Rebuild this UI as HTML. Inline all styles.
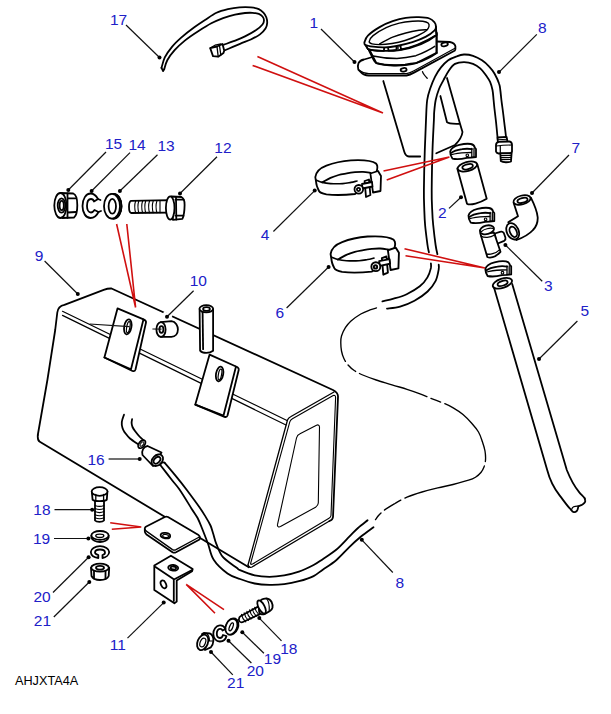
<!DOCTYPE html>
<html><head><meta charset="utf-8">
<style>
html,body{margin:0;padding:0;background:#fff;}
body{width:611px;height:714px;overflow:hidden;}
svg{display:block;}
.l{fill:none;stroke:#000;stroke-width:1.8;stroke-linecap:round;stroke-linejoin:round;}
.f{fill:#fff;stroke:#000;stroke-width:1.8;stroke-linejoin:round;}
.t{fill:none;stroke:#111;stroke-width:1.2;}
.th{stroke-width:1.1;}
.r{fill:none;stroke:#d01010;stroke-width:1.6;}
.n{font-family:"Liberation Sans",sans-serif;font-size:15.5px;fill:#2020c8;}
.d{fill:#000;}
</style></head><body>
<svg width="611" height="714" viewBox="0 0 611 714">
<!-- tank -->
<g class="l">
<!-- body outline -->
<path d="M37.8,435 L47.4,380 L55.2,330 L57.3,312.5 C57.8,308.5 60,305.8 64.4,304.9 L103.7,289.8 C106,289 109,288.4 111.5,288.5 L333,390 C336,391.5 338.2,393.5 338,397 L333,517 C332.8,519 331.5,520.3 329.5,521"/>
<path stroke-width="1.3" d="M329.5,521 L252,567 C250.5,567.8 249,567 248,565"/>
<path d="M37.8,435 C37.5,439 38,440.8 39.8,441.8 L248.8,567.2"/>
<!-- end face -->
<path stroke-width="1.3" d="M248,565 L287.5,420 C288,418.5 289,417.5 291,416.5 L334,392"/>
<path stroke-width="1.1" d="M250.6,563.5 L289.8,421.8 C290.2,420.5 291,419.6 292.4,418.8 L333.2,395.6 C334.6,395 335.6,395.8 335.6,397.5 L331,515.5 C330.9,516.8 330.2,517.6 329,518.3 L253,563.8 C251.6,564.5 250.4,564.6 250.6,563.5 Z"/>
<path stroke-width="1.1" d="M319.5,427 L318.3,503 C318.2,504.8 317.3,506 315.6,507.2 L280.5,526.6 C278.5,527.6 277,526.3 277.6,524.2 L296.5,438 C297,435.8 298,434.6 300,433.7 L316.5,425.2 C318.3,424.4 319.5,425.3 319.5,427 Z"/>
<!-- ridge lines -->
<path stroke-width="1.2" d="M62.5,311.3 L287,420.5"/>
<path stroke-width="1.2" d="M62.5,315.4 L286,425"/>
</g>
<!-- bracket A -->
<g class="l">
<path class="f" d="M117.5,308.4 L143.5,319.3 C145.5,320 146.2,321 146,322.5 L135.5,369.5 C135,371 134,371.5 132.5,371 L104.4,357.5 Z"/>
<path d="M143.5,319.3 L131,369.2 L104.4,357.5"/>
<ellipse cx="127.8" cy="326.8" rx="3.6" ry="7.6" transform="rotate(10 127.8 326.8)"/>
<ellipse cx="128.3" cy="327.2" rx="1.6" ry="5.6" transform="rotate(10 128.3 327.2)" stroke-width="1.2"/>
</g>
<!-- bracket B -->
<g class="l">
<path class="f" d="M209.6,354.6 L236,366.5 C238,367.3 239,368.5 238.7,370 L227.5,415.5 C227,417 226,417.3 224.5,416.8 L195.3,404.6 Z"/>
<path d="M236,366.5 L223.5,415.5 L195.3,404.6"/>
<ellipse cx="219.6" cy="374" rx="3.6" ry="7.4" transform="rotate(10 219.6 374)"/>
<ellipse cx="220" cy="374.4" rx="1.6" ry="5.4" transform="rotate(10 220 374.4)" stroke-width="1.2"/>
</g>
<!-- pipe on top -->
<g class="l" transform="translate(0.6,1.2)">
<path class="f" d="M199,308 L199.5,349.5 C202,352.5 209,352.5 212.5,349.5 L212.5,308 Z"/>
<ellipse class="f" cx="205.7" cy="307.6" rx="6.8" ry="3.6"/>
<ellipse cx="205.9" cy="307.8" rx="3.4" ry="1.9"/>
<path d="M202,311 L202.5,348"/>
</g>
<!-- spacer 10 -->
<g class="l" transform="translate(0.4,1.1)">
<path class="f" d="M160.4,321 L171,320 C175.5,320.5 177.5,325 177.5,328.5 C177.5,332.5 175,335.7 171,335.8 L160.4,335.7 Z"/>
<ellipse class="f" cx="160.6" cy="328.4" rx="4.6" ry="7.4"/>
<ellipse cx="161" cy="328.4" rx="2" ry="3.3"/>
</g>
<g class="t">
<path d="M89.6,324 L129.5,326.6"/>
<path d="M152.4,329 L161.5,329.2"/>
</g>
<!-- pipe 16 -->
<g class="l">
<path d="M124.0,414.7 C123.6,415.9 122.0,419.8 121.8,422.0 C121.5,424.2 122.0,426.3 122.5,428.0 C123.0,429.7 123.5,430.6 124.7,432.4 C126.0,434.1 127.7,436.5 130.0,438.5 C132.3,440.5 137.1,443.5 138.5,444.5"/>
<path d="M132.1,419.1 C132.0,419.8 131.5,421.7 131.6,423.0 C131.7,424.3 131.9,425.7 132.5,427.0 C133.1,428.3 133.8,429.4 135.0,431.0 C136.2,432.6 137.9,434.8 139.5,436.5 C141.1,438.2 143.8,440.4 144.6,441.2"/>
<ellipse class="f" cx="141.8" cy="444.2" rx="2.8" ry="4.6" transform="rotate(40 141.8 444.2)"/>
<ellipse cx="142" cy="444.1" rx="1.3" ry="2.6" transform="rotate(40 142 444.1)" stroke-width="1"/>
<path class="f" d="M147.5,446 L161.5,452.5 L153,466 L142.5,455 C141.3,451 143.5,446.5 147.5,446 Z"/>
<ellipse class="f" cx="157.3" cy="460.2" rx="4.8" ry="6.6" transform="rotate(45 157.3 460.2)"/>
<ellipse cx="157" cy="460.3" rx="2.6" ry="4" transform="rotate(45 157 460.3)"/>
<path d="M160.1,464.8 C160.8,463 162.5,462 164.5,462.6"/>
</g>
<!-- welded bracket -->
<g class="l">
<path class="f" d="M145.8,526.8 L164.8,517 C165.8,516.5 167,516.5 168,517 L198.5,535 C199.8,535.8 200,537 199.8,538.5 L199.5,539.5 L176,552.2 C174.8,552.8 173.5,552.8 172.5,552.2 L146.5,534.5 C145.3,533.6 144.8,532.5 144.8,531.3 L144.8,528.5 C144.9,527.7 145.2,527.2 145.8,526.8 Z"/>
<path stroke-width="1.3" d="M145,529.5 C145.3,530.5 146,531 147,531.6 L172.5,549.6 C173.5,550.2 174.8,550.2 176,549.6 L199.8,536.8"/>
<ellipse cx="165.4" cy="535.6" rx="4.8" ry="2.7" transform="rotate(8 165.4 535.6)"/>
<ellipse cx="165.6" cy="536" rx="3" ry="1.5" transform="rotate(8 165.6 536)" stroke-width="1.2"/>
</g>

<!-- hose -->
<g class="l">
<!-- vent hose 8 upper arch + vertical -->
<path d="M506.2,140.0 C506.1,139.2 506.1,138.0 505.8,135.0 C505.5,132.0 504.7,126.3 504.2,122.0 C503.7,117.7 503.1,112.7 502.6,109.0 C502.1,105.3 501.8,103.2 501.4,100.0 C501.0,96.8 500.7,92.7 500.3,90.0 C499.9,87.3 500.1,86.4 499.1,83.7 C498.2,81.0 496.2,76.7 494.6,73.8 C493.0,70.9 491.3,68.8 489.2,66.6 C487.1,64.3 484.7,62.1 482.0,60.3 C479.3,58.5 476.0,56.8 473.0,55.8 C470.0,54.8 466.7,54.4 464.0,54.5 C461.3,54.6 459.3,55.3 456.7,56.3 C454.1,57.2 450.8,58.4 448.2,60.2 C445.6,62.1 443.2,64.7 441.0,67.4 C438.8,70.1 436.9,73.2 435.1,76.6 C433.4,80.0 431.8,83.8 430.5,87.7 C429.2,91.6 427.9,94.6 427.2,100.0 C426.4,105.4 426.4,111.7 426.0,120.0 C425.6,128.3 425.2,138.3 424.8,150.0 C424.4,161.7 424.0,180.0 423.9,190.0 C423.8,200.0 424.1,204.2 424.3,210.0 C424.5,215.8 424.6,219.2 425.1,225.0 C425.6,230.8 426.9,240.4 427.5,245.0 C428.1,249.6 428.7,251.1 428.9,252.3"/>
<path d="M430.9,263.4 C430.9,264.2 431.4,265.7 430.9,268.0 C430.3,270.3 429.5,274.1 427.6,277.1 C425.8,280.2 423.3,283.5 419.8,286.3 C416.3,289.1 411.1,292.1 406.7,294.2 C402.3,296.3 397.7,297.5 393.6,298.7 C389.6,299.9 384.3,300.9 382.4,301.4"/>
<path d="M497.8,140.0 C497.7,139.2 497.6,138.3 497.3,135.0 C497.0,131.7 496.3,124.3 495.8,120.0 C495.3,115.7 494.9,112.3 494.5,109.0 C494.1,105.7 493.9,103.2 493.6,100.0 C493.3,96.8 493.1,93.0 492.5,90.0 C491.9,87.0 491.2,84.5 490.1,81.9 C489.0,79.4 487.2,77.0 485.6,74.7 C484.0,72.5 482.3,70.2 480.2,68.4 C478.1,66.6 475.7,65.0 473.0,63.9 C470.3,62.8 467.0,62.1 464.0,62.1 C461.0,62.1 457.5,62.5 455.0,63.9 C452.5,65.3 450.7,68.0 448.8,70.7 C446.9,73.4 445.2,76.9 443.6,79.9 C442.0,83.0 440.3,85.7 439.0,89.0 C437.7,92.3 436.5,96.2 435.7,100.0 C434.9,103.8 434.5,108.7 434.2,112.0 C433.9,115.3 434.2,113.7 433.9,120.0 C433.6,126.3 432.9,138.3 432.5,150.0 C432.1,161.7 431.8,180.0 431.7,190.0 C431.6,200.0 431.9,204.2 432.2,210.0 C432.4,215.8 432.6,219.2 433.2,225.0 C433.8,230.8 434.9,240.1 435.6,245.0 C436.3,249.9 437.1,252.7 437.4,254.2"/>
<path d="M438.7,264.7 C438.7,265.5 439.2,266.6 438.7,269.3 C438.2,272.0 437.4,277.4 435.5,281.1 C433.6,284.8 431.1,288.2 427.6,291.5 C424.1,294.8 419.1,298.2 414.5,300.7 C409.9,303.2 404.7,305.3 400.1,306.6 C395.5,307.9 389.2,308.3 387.0,308.6"/>
<!-- dashed route -->
<path d="M376.5,307.9 C375.4,308.2 372.6,308.9 370.0,309.9 C367.4,310.9 364.0,312.1 360.8,314.0 C357.6,315.9 353.6,318.7 351.0,321.0 C348.4,323.3 347.0,325.2 345.4,327.7 C343.8,330.2 342.3,333.4 341.5,336.0 C340.7,338.6 340.8,340.6 340.8,343.1 C340.8,345.6 341.0,348.4 341.5,351.0 C342.0,353.6 342.8,356.2 343.9,358.5 C345.0,360.8 346.2,362.9 348.0,365.0 C349.8,367.1 351.9,369.1 354.6,370.8 C357.3,372.6 360.4,374.0 364.0,375.5 C367.6,377.0 371.5,378.4 376.2,380.0 C380.9,381.6 386.9,383.2 392.0,384.8 C397.1,386.4 402.3,387.8 407.0,389.3 C411.7,390.8 415.9,392.2 420.0,393.8 C424.1,395.4 427.8,397.1 431.6,398.6 C435.4,400.1 439.4,401.5 443.0,403.0 C446.6,404.5 449.9,405.9 453.2,407.8 C456.5,409.7 459.9,411.9 463.0,414.5 C466.1,417.1 469.1,420.3 471.7,423.2 C474.3,426.1 476.7,428.9 478.5,432.0 C480.3,435.1 481.3,438.5 482.4,441.7 C483.5,444.9 484.5,447.9 485.0,451.0 C485.5,454.1 485.7,457.4 485.5,460.1 C485.3,462.8 484.8,464.9 484.0,467.0 C483.2,469.1 482.3,470.8 480.9,472.5 C479.5,474.2 477.6,475.9 475.5,477.2 C473.4,478.5 472.4,479.0 468.6,480.2 C464.9,481.4 458.1,483.2 453.0,484.5 C447.9,485.8 443.0,486.6 437.8,487.9 C432.6,489.1 427.1,490.5 422.0,492.0 C416.9,493.5 411.5,495.2 407.0,497.1 C402.5,499.0 398.6,501.4 395.0,503.5 C391.4,505.6 388.1,507.5 385.4,509.4 C382.7,511.3 380.6,513.3 379.0,515.0 C377.4,516.7 376.1,518.8 375.5,519.6" stroke-width="1.35" stroke-dasharray="73.1 4.5 10.0 4.5 71.0 4.5 10.3 4.5 75.2 4.5 88.4 4.5 19.3 4.5 13.9 1.0"/>
<!-- lower hose from connector -->
<path d="M160.1,464.8 C162.1,467.3 168.7,475.9 171.9,480.0 C175.1,484.1 176.2,484.8 179.5,489.5 C182.8,494.2 188.4,503.6 191.4,508.4 C194.4,513.1 195.8,514.7 197.6,518.0 C199.3,521.3 200.2,523.7 201.9,528.0 C203.6,532.3 206.0,538.4 208.0,543.7 C210.0,549.0 210.4,554.8 213.7,559.8 C216.9,564.8 223.1,570.3 227.5,573.5 C231.9,576.7 235.5,577.3 240.0,579.0 C244.5,580.7 249.8,582.5 254.7,583.5 C259.6,584.5 264.6,584.8 269.5,584.9 C274.4,585.0 279.3,584.8 284.2,584.2 C289.1,583.6 294.0,582.6 298.9,581.2 C303.8,579.9 309.6,578.1 313.6,576.1 C317.6,574.1 319.3,572.0 323.1,569.4 C326.9,566.8 331.8,563.9 336.2,560.2 C340.6,556.5 345.2,551.1 349.3,547.1 C353.4,543.1 357.0,539.8 361.0,536.5 C365.0,533.2 371.4,528.8 373.5,527.2"/>
<path d="M164.5,462.6 C166.5,464.9 172.5,472.0 176.3,476.6 C180.1,481.2 183.4,485.4 187.2,490.5 C191.0,495.6 196.2,502.6 199.3,507.0 C202.4,511.4 203.9,514.0 205.8,517.1 C207.7,520.2 209.2,522.7 210.5,525.5 C211.8,528.3 212.3,531.0 213.3,534.0 C214.3,537.0 214.7,540.0 216.3,543.8 C217.9,547.6 219.4,552.9 222.8,556.9 C226.2,560.9 233.8,565.6 236.7,567.8 C239.6,570.0 237.0,568.9 240.0,570.2 C243.0,571.5 249.8,574.3 254.7,575.4 C259.6,576.5 264.6,576.8 269.5,576.8 C274.4,576.8 279.3,576.2 284.2,575.4 C289.1,574.5 294.0,573.4 298.9,571.7 C303.8,570.0 309.6,567.1 313.6,565.0 C317.6,562.9 319.3,561.4 323.1,558.9 C326.9,556.4 331.8,553.5 336.2,549.8 C340.6,546.1 345.7,540.3 349.3,536.7 C352.9,533.1 354.9,530.7 358.0,528.0 C361.1,525.3 366.0,521.6 367.6,520.3"/>
</g>
<!-- hose 5 -->
<g class="l">
<path d="M493.4,285.4 L547.2,470 C549,477 553,487 559.6,495.4 C564,501 568,507 571.4,510.1"/>
<path d="M512.2,284 L566.8,470 C570,478 574,486 579.3,492.4 C581,494.5 583.5,496.5 584.7,498.3"/>
<path d="M571.4,510.1 C572.5,512.3 574.8,512.8 576.8,511 C578,509.5 578.2,507.5 578.3,506.2 C579.5,505.8 580.5,505.5 581.3,505.2 C583.5,504 585.8,502.5 585.2,500.5 L584.7,498.3"/>
<path d="M571.8,509 C572.5,507 575,506 578.3,506.2" stroke-width="1.2"/>
<ellipse class="f" cx="502.4" cy="283.3" rx="10" ry="4.6" transform="rotate(-18 502.4 283.3)"/>
<ellipse cx="502.6" cy="283.3" rx="5.2" ry="2.3" transform="rotate(-18 502.6 283.3)"/>
</g>

<!-- neck -->
<g class="l">
<!-- tube body -->
<path d="M383.3,81 L404.2,151.5 C405,154.5 406.5,156.3 409,156.5 L420.2,156.5"/>
<path d="M447,78 L460,123.8 L462.5,132 C462,137 459,141 455,145 L436.3,153.3"/>
<path d="M440.4,96 L447,122.2 C448.5,124 452,124 459.2,123.8"/>
<!-- flange -->
<path class="f" d="M358.5,63.2 C359.5,61 361.5,60 364,59.5 L372.6,57 L436.6,41.5 L449.8,42 C452.5,42.5 455,44.5 455.4,46.3 L455.4,49.1 C455.2,50 454.8,50.5 454.5,50.8 L414,72.6 C411,74.2 409,75 406.5,75.5 L368.8,75.5 C364.5,75.3 362.5,74 361.3,72.6 L358.3,69.5 C357.5,67.5 357.8,65 358.5,63.2 Z"/>
<path stroke-width="1.2" d="M359.5,70.5 C362,72.5 365,73.4 368.8,73.6 L406.5,73.6 C409.5,73.3 411.5,72.3 414,70.8 L455,48.2"/>
<ellipse cx="403.6" cy="69.8" rx="3" ry="1.8" transform="rotate(-8 403.6 69.8)"/>
<ellipse cx="444.6" cy="44.4" rx="3.3" ry="1.8" transform="rotate(-12 444.6 44.4)"/>
<path stroke-width="1.3" d="M422.5,71.7 C423,73.5 424,75 427.2,78.3"/>
<!-- neck -->
<path class="f" stroke="none" d="M368.5,48 L376.4,63.2 C385,66 405,66.5 415.9,63.2 L436.6,52.9 L436.6,33 Z"/>
<path d="M368.8,50 L373.5,59.5 C374.5,61.5 375.3,62.5 376.4,63.2 C385,65.5 397,65.5 405,64.6 C409,64 413,63.5 415.9,63.2 C425,60 431,57 436.6,52.9"/>
<path stroke-width="1.4" d="M371.6,55.7 C380,57.5 390,58.5 397,58.5 C405,58 410,57 415.9,55.7 C424,52.5 430,49.5 434.7,46.3"/>
<path d="M436.6,33 L436.6,52.9"/>
<!-- ring band (side) -->
<path class="f" stroke="none" d="M364.6,42.1 L367.9,49.1 C375,51 390,51.5 400,50 C415,47.5 428,42 436.5,35 L435.9,26.4 Z"/>
<path d="M365.2,44.7 L367.9,49.1 C372,50.5 378,51 383.9,50.8 L384.2,47.6 M388,47.4 L388.5,50.6 C392,50.5 395,50.2 396.5,50 L396.5,46.1 M400.5,45.5 L401,49.5 C412,47.5 425,42 436.5,35 L435.9,28"/>
<path stroke-width="1.3" d="M384.2,47.6 L388,47.4 M396.5,46.1 L400.5,45.5 M396.5,48 L398.5,48"/>
<!-- ring rim -->
<path class="f" d="M364.6,42.1 C365.1,40.6 365.4,38.1 367.9,35.6 C370.4,33.1 375.5,29.5 379.6,27.1 C383.7,24.7 388.3,22.7 392.7,21.2 C397.1,19.7 401.4,18.6 405.8,17.9 C410.2,17.2 415.0,17.1 418.9,17.2 C422.8,17.3 426.8,17.6 429.4,18.5 C432.0,19.4 433.5,21.2 434.6,22.5 C435.7,23.8 435.9,25.1 435.9,26.4 C435.9,27.7 436.3,28.6 434.6,30.3 C432.9,32.0 429.2,34.9 425.5,36.9 C421.8,38.9 417.2,40.6 412.4,42.1 C407.6,43.6 401.3,45.1 396.7,46.0 C392.1,46.9 388.8,47.3 384.9,47.4 C381.0,47.5 376.4,47.2 373.1,46.7 C369.8,46.2 366.6,45.5 365.2,44.7 C363.8,43.9 364.2,43.6 364.6,42.1 Z"/>
<path stroke-width="1.4" d="M369.2,41.5 C369.4,40.1 370.3,37.9 373.1,35.6 C375.9,33.3 381.8,29.8 386.2,27.7 C390.6,25.6 394.9,24.2 399.3,23.1 C403.7,22.0 408.5,21.5 412.4,21.2 C416.3,20.9 420.2,20.9 422.8,21.2 C425.4,21.5 427.1,22.2 428.1,23.1 C429.1,24.0 429.3,25.2 429.0,26.4 C428.7,27.6 428.3,29.0 426.5,30.5 C424.7,32.0 421.6,33.8 418.0,35.5 C414.4,37.2 409.3,39.2 405.0,40.5 C400.7,41.8 396.2,42.8 392.0,43.5 C387.8,44.2 383.3,44.6 380.0,44.6 C376.7,44.6 373.8,44.3 372.0,43.8 C370.2,43.3 369.0,42.9 369.2,41.5 Z"/>
<path stroke-width="1.4" d="M379.6,43.8 C381.8,42.7 388.3,39.0 392.7,37.2 C397.1,35.4 401.4,34.1 405.8,33.0 C410.2,31.9 415.4,30.9 418.9,30.3 C422.4,29.8 425.5,29.8 426.8,29.7"/>
</g>

<!-- tie -->
<g class="l">
<path d="M161.5,67.8 C162.1,66.1 163.1,60.9 164.8,57.4 C166.6,53.9 169.3,50.2 172.0,46.9 C174.7,43.6 177.5,41.0 181.2,37.7 C184.9,34.4 190.3,30.2 194.3,27.3 C198.3,24.4 201.3,22.4 205.0,20.0 C208.7,17.6 212.7,14.6 216.5,12.8 C220.3,11.0 224.1,10.1 227.9,9.2 C231.7,8.3 235.6,7.7 239.4,7.4 C243.2,7.1 247.6,7.1 250.8,7.4 C254.0,7.7 256.7,8.3 258.8,9.2 C260.9,10.1 262.1,11.3 263.4,12.6 C264.6,13.9 265.7,15.5 266.3,17.2 C266.9,18.9 267.3,21.0 267.2,22.9 C267.1,24.8 266.7,26.7 265.5,28.6 C264.3,30.5 262.4,32.6 260.0,34.4 C257.6,36.2 254.1,37.9 250.8,39.5 C247.5,41.1 244.4,42.0 240.0,43.8 C235.6,45.6 227.1,49.4 224.5,50.5"/>
<path d="M164.2,69.2 C164.7,67.7 165.7,63.2 167.4,60.0 C169.1,56.8 171.7,53.5 174.6,50.2 C177.5,46.9 181.2,43.6 185.1,40.4 C189.0,37.2 193.8,34.0 198.2,31.2 C202.6,28.4 207.2,25.5 211.3,23.3 C215.5,21.1 219.2,19.6 223.1,18.1 C227.0,16.7 231.3,15.4 235.0,14.6 C238.7,13.8 242.1,13.3 245.0,13.0 C247.9,12.7 250.2,12.7 252.5,12.8 C254.8,13.0 257.1,13.3 258.8,13.9 C260.5,14.5 261.6,15.4 262.5,16.5 C263.4,17.6 264.0,19.0 264.0,20.3 C264.0,21.6 263.8,22.9 262.5,24.5 C261.2,26.1 259.4,27.8 256.5,29.8 C253.6,31.8 248.8,34.5 245.0,36.4 C241.2,38.3 237.1,39.8 233.6,41.2 C230.1,42.6 225.6,44.0 224.0,44.6"/>
<path d="M161.5,67.8 L163.1,71.1 L164.2,69.2"/>
<path class="f" d="M210.2,48.1 L217,46.5 L222.5,44 L224.2,50.5 L223.5,53 L218.2,56.7 L213,56.1 Z"/>
<path d="M210.2,48.1 L215,45.2 L221,44 M217,46.5 L218.2,56.7 M219.5,45.5 L220.8,55" stroke-width="1.3"/>
</g>

<!-- clips -->

<g class="l">
<path class="f" d="M315.3,177.1 C316,172 320,168 326.4,165.6 C333,163 342,161 350.9,160.3 C362,159.7 372,160.5 376,163.5 C377.5,165 377.5,168 377,170 L375,178 L355,194 C346,195 336,195.6 326.4,194.3 C321,193.2 319.5,192 319,191 C317.5,188 316.2,185 316.1,182 Z"/>
<path d="M322.3,182.4 C323.7,181.7 327.8,179.1 330.5,177.9 C333.2,176.7 335.9,175.8 338.6,175.0 C341.3,174.2 344.1,173.9 346.8,173.4 C349.5,172.9 352.3,172.5 355.0,172.2 C357.7,171.9 360.4,171.7 363.0,171.8 C365.6,171.9 369.2,172.6 370.5,172.8"/>
<path stroke-width="1.6" d="M316.3,180.2 C317.3,180.6 319.9,181.8 322.3,182.4 C324.7,183.0 327.1,183.4 330.5,183.6 C333.9,183.8 339.3,183.8 342.7,183.6 C346.1,183.4 348.5,182.8 350.9,182.4 C353.3,182.0 356.0,181.2 357.0,181.0"/>
<path class="f" d="M370.4,173.5 L378,171 L381,176 L380.5,191 L373,192.5 Z"/>
<path class="f" d="M364.6,181 L369,179.5 L370.4,195 L366,197 Z"/>
<path class="f" d="M362,184 L372,182 L372.5,186.5 L362.5,188.5 Z"/>
<circle class="f" cx="358.8" cy="189.3" r="4.3"/>
<circle cx="358.5" cy="189.5" r="1.6"/>
</g>
<g class="l" transform="translate(330.6,254) scale(1.04) translate(-315.3,-177.1)">
<path class="f" d="M315.3,177.1 C316,172 320,168 326.4,165.6 C333,163 342,161 350.9,160.3 C362,159.7 372,160.5 376,163.5 C377.5,165 377.5,168 377,170 L375,178 L355,194 C346,195 336,195.6 326.4,194.3 C321,193.2 319.5,192 319,191 C317.5,188 316.2,185 316.1,182 Z"/>
<path d="M322.3,182.4 C323.7,181.7 327.8,179.1 330.5,177.9 C333.2,176.7 335.9,175.8 338.6,175.0 C341.3,174.2 344.1,173.9 346.8,173.4 C349.5,172.9 352.3,172.5 355.0,172.2 C357.7,171.9 360.4,171.7 363.0,171.8 C365.6,171.9 369.2,172.6 370.5,172.8"/>
<path stroke-width="1.6" d="M316.3,180.2 C317.3,180.6 319.9,181.8 322.3,182.4 C324.7,183.0 327.1,183.4 330.5,183.6 C333.9,183.8 339.3,183.8 342.7,183.6 C346.1,183.4 348.5,182.8 350.9,182.4 C353.3,182.0 356.0,181.2 357.0,181.0"/>
<path class="f" d="M370.4,173.5 L378,171 L381,176 L380.5,191 L373,192.5 Z"/>
<path class="f" d="M364.6,181 L369,179.5 L370.4,195 L366,197 Z"/>
<path class="f" d="M362,184 L372,182 L372.5,186.5 L362.5,188.5 Z"/>
<circle class="f" cx="358.8" cy="189.3" r="4.3"/>
<circle cx="358.5" cy="189.5" r="1.6"/>
</g>

<!-- small -->

<g class="l">
<path class="f" d="M450.2,151.5 C451,148 455,146 459.3,144.9 C463,144 468,143.5 470.8,144 C473,144.5 474.5,146 474.8,147.7 L476,149 L476,157 L471.3,157.5 L466.8,157.8 C462,159 455,159.2 452.4,158.6 C451,156.5 450,154 450.2,151.5 Z"/>
<path d="M451.3,152.9 C453,151.5 457,150 462.2,149.2 C465,148.7 468,148.5 471.9,149.2"/>
<path d="M451.6,154.6 C455,153.5 460,153 466.8,152.6 L471.5,152.5" stroke-width="1.3"/>
<path d="M471.8,148.5 L471.8,157.3 M474,148.5 L474,157" stroke-width="1.3"/>
<circle cx="467.3" cy="155.3" r="1.3" stroke-width="1.1"/>
</g>
<g class="l" transform="translate(18.3,64)">
<path class="f" d="M450.2,151.5 C451,148 455,146 459.3,144.9 C463,144 468,143.5 470.8,144 C473,144.5 474.5,146 474.8,147.7 L476,149 L476,157 L471.3,157.5 L466.8,157.8 C462,159 455,159.2 452.4,158.6 C451,156.5 450,154 450.2,151.5 Z"/>
<path d="M451.3,152.9 C453,151.5 457,150 462.2,149.2 C465,148.7 468,148.5 471.9,149.2"/>
<path d="M451.6,154.6 C455,153.5 460,153 466.8,152.6 L471.5,152.5" stroke-width="1.3"/>
<path d="M471.8,148.5 L471.8,157.3 M474,148.5 L474,157" stroke-width="1.3"/>
<circle cx="467.3" cy="155.3" r="1.3" stroke-width="1.1"/>
</g>
<g class="l" transform="translate(35.2,117.4)">
<path class="f" d="M450.2,151.5 C451,148 455,146 459.3,144.9 C463,144 468,143.5 470.8,144 C473,144.5 474.5,146 474.8,147.7 L476,149 L476,157 L471.3,157.5 L466.8,157.8 C462,159 455,159.2 452.4,158.6 C451,156.5 450,154 450.2,151.5 Z"/>
<path d="M451.3,152.9 C453,151.5 457,150 462.2,149.2 C465,148.7 468,148.5 471.9,149.2"/>
<path d="M451.6,154.6 C455,153.5 460,153 466.8,152.6 L471.5,152.5" stroke-width="1.3"/>
<path d="M471.8,148.5 L471.8,157.3 M474,148.5 L474,157" stroke-width="1.3"/>
<circle cx="467.3" cy="155.3" r="1.3" stroke-width="1.1"/>
</g>
<!-- hose 2 -->
<g class="l">
<path class="f" d="M457.3,168.4 L467,203.7 C470,205.7 480,203 486.7,198.8 L477.4,164.5 Z"/>
<ellipse class="f" cx="467.4" cy="166.5" rx="10" ry="4.5" transform="rotate(-15 467.4 166.5)"/>
<ellipse cx="467.6" cy="166.7" rx="5.4" ry="2.4" transform="rotate(-15 467.6 166.7)"/>
</g>
<!-- T piece -->
<g class="l">
<path class="f" d="M494.8,233.5 L500.8,231.7 C502,231.3 503,231.8 503.8,233 L505.4,237.5 C505.8,238.8 505.4,240 504.2,240.9 L496.5,244 Z"/>
<path class="f" d="M480.2,233 L487.3,256.9 C489.5,258.2 495,258 500.5,251.8 L493.9,232.5 Z"/>
<path d="M481,236 C484,238 490,238 494.6,235" stroke-width="1.3"/>
<path d="M486.4,253.8 C489.5,255 495.5,253.8 499.8,249.6" stroke-width="1.3"/>
<ellipse class="f" cx="487" cy="229.8" rx="7.2" ry="4.3" transform="rotate(-15 487 229.8)"/>
<path d="M481.5,231.5 C484,229 490,227.5 493,228.5" stroke-width="1.1"/>
</g>
<!-- elbow 7 -->
<g class="l">
<path class="f" d="M513.7,203 L518,216.3 L508.3,222.2 L516.6,240 C522,238 529.4,234 533,230 C537,226 537.8,220 537.7,217.3 C537.2,212 535.5,207 530.9,197.7 Z"/>
<ellipse class="f" cx="522" cy="200" rx="8.8" ry="4.4" transform="rotate(-15 522 200)"/>
<ellipse cx="522.5" cy="200.4" rx="5.2" ry="2.4" transform="rotate(-15 522.5 200.4)"/>
<ellipse class="f" cx="512.7" cy="231.3" rx="5.9" ry="8.6" transform="rotate(-25 512.7 231.3)"/>
<ellipse cx="513.3" cy="231.8" rx="3.3" ry="5.5" transform="rotate(-25 513.3 231.8)"/>
</g>
<!-- vent hose fitting -->
<g class="l">
<path class="f" d="M497.6,137.5 L506.6,136.8 L507.5,141.5 L497.8,142 Z"/>
<path d="M497.7,139.8 L507,139.2" stroke-width="1.1"/>
<path class="f" d="M496,145 C496,143 497,142 499,141.8 L509.5,141.5 C511,141.8 512,143 512,145 L512,151.5 C511.8,152.8 510.8,153.3 509.5,153.3 L498.5,153.5 C497,153.3 496.2,152.5 496,151.5 Z"/>
<path d="M496.3,146 C500,145.5 508,145 511.8,145 M500.3,146 L500.3,153.4" stroke-width="1.2"/>
<path class="f" d="M500.3,153.4 L500.8,161 C503,162.6 508.5,162.6 511,161.5 L511.6,153.2 Z"/>
<path d="M500.5,155.6 L511.5,155.4 M500.6,157.6 L511.4,157.4 M500.7,159.6 L511.3,159.4" stroke-width="1.1"/>
</g>

<!-- hardware -->
<!-- nut 15 -->
<g class="l">
<path class="f" d="M60.4,193 L73.3,193.5 C76,194.5 77.3,199 77.3,205.2 C77.3,211 76,216 74,217.5 L62.3,218 Z"/>
<path d="M67.5,193.5 L67.5,217.8 M67.5,198.4 L75.8,198.4 M67.5,212.5 L75.8,212"/>
<ellipse class="f" cx="60.4" cy="205.5" rx="6.1" ry="12.5"/>
<ellipse cx="61.5" cy="205.5" rx="3.8" ry="7.2"/>
<ellipse cx="61.7" cy="205.5" rx="2.1" ry="4.6"/>
</g>
<!-- washer 14 -->
<g class="l">
<path class="f" d="M98,199 C96,195.5 93.5,193.5 90.5,193.5 C86,193.5 82.5,199 82.5,206 C82.5,213 86,218 90.5,218 C94,218 96.5,216 98.5,212 L94.5,210 C93.5,211.5 92.5,212.5 91,212.5 C88.5,212.5 87,209.5 87,206 C87,202 88.5,199 91,199 C92.5,199 93.5,200 94,201.5 Z"/>
<path d="M98,199 L100.5,200 M98.5,212 L101,211"/>
</g>
<!-- washer 13 -->
<g class="l">
<ellipse class="f" cx="113.5" cy="206.2" rx="8" ry="12.4"/>
<path d="M113.5,193.8 C118,193.8 121.5,199 121.5,206.2 C121.5,213 118,218.6 113.5,218.6"/>
<ellipse class="f" cx="112" cy="206.2" rx="8" ry="12.4"/>
<ellipse cx="112.3" cy="206.3" rx="3.7" ry="7.4"/>
</g>
<!-- bolt 12 -->
<g class="l">
<path class="f" d="M131,200.8 L169.7,200.2 L169.7,212.5 L131,213 C129.5,212.5 129,209 129,206.8 C129,203 129.8,201.2 131,200.8 Z"/>
<path d="M135.6,201 C134.6,204 134.6,209 135.6,212.8 M138.8,201 C137.8,204 137.8,209 138.8,212.8 M142.6,201 C141.6,204 141.6,209 142.6,212.8 M145.7,201 C144.7,204 144.7,209 145.7,212.8 M149.5,201 C148.5,204 148.5,209 149.5,212.8 M153.2,201 C152.2,204 152.2,209 153.2,212.8 M156.9,201 C155.9,204 155.9,209 156.9,212.8 M160,200.8 L160,212.7" stroke-width="1.1"/>
<path class="f" d="M171.5,196.5 L181.4,197 C184,198.5 184.8,201 184.6,205 C184.5,212 183.8,216 182.4,218.9 L172.9,219.9 Z"/>
<path d="M175.5,199.7 L183.5,199.7 M175.5,215.7 L183.5,215.7 M176,197 L176.3,219.5"/>
<ellipse class="f" cx="170.2" cy="208" rx="4.3" ry="11.6"/>
</g>
<!-- bolt 18 left -->
<g class="l">
<path class="f" d="M95,500.5 L95,520.5 C96.5,522.2 102.5,522.2 104,520.5 L104,500.5 Z"/>
<path d="M95,505.4 C97.5,506.5 101.5,506.5 104,505.4 M95,508.5 C97.5,509.6 101.5,509.6 104,508.5 M95,511.6 C97.5,512.7 101.5,512.7 104,511.6 M95,514.7 C97.5,515.8 101.5,515.8 104,514.7 M95,517.7 C97.5,518.8 101.5,518.8 104,517.7" stroke-width="1.1"/>
<path class="f" d="M91.8,491.5 L92.6,499.8 C95,501.6 104.5,501.6 106.8,499.8 L107.4,491.5 Z"/>
<ellipse class="f" cx="99.6" cy="491.5" rx="7.9" ry="4.3"/>
<path d="M95.8,494.5 L95.8,501 M103.6,494.5 L103.6,501" stroke-width="1.3"/>
</g>
<!-- washer 19 left -->
<g class="l">
<path class="f" d="M91.4,535.4 L91.4,537.5 C92,540 96,542 100,542 C104,542 108,540 108.6,537.5 L108.6,535.4 Z"/>
<ellipse class="f" cx="100" cy="535.4" rx="8.6" ry="4.4"/>
<ellipse cx="99.8" cy="535.8" rx="4" ry="1.7" stroke-width="1.4"/>
</g>
<!-- washer 20 left -->
<g class="l">
<path class="f" d="M98.3,558 C94,557.5 91,555 90.8,552 C90.8,549 95,546.2 100,546.2 C105,546.2 109.2,549 109.2,552 C109,555 106,557.5 102.5,558 L102.5,555 C104.5,554.5 105,553 105,552.5 C105,550.5 102.5,549.5 100,549.5 C97.5,549.5 95,550.5 95,552.5 C95,553.5 96.5,554.5 98.3,555 Z"/>
</g>
<!-- nut 21 left -->
<g class="l">
<path class="f" d="M91,567.7 L91.5,576 C93,579 97,580 100,580 C104,580 107.5,579 108.7,576 L109.2,567.7 Z"/>
<path d="M94,570 L94,578.5 M105.5,570 L105.5,578.5"/>
<ellipse class="f" cx="100" cy="567.7" rx="8.8" ry="4"/>
<ellipse cx="100" cy="567.7" rx="4" ry="1.9"/>
</g>
<!-- bracket 11 -->
<g class="l">
<path class="f" d="M154.3,565.5 L170.9,555.7 L192.7,568.9 L192.1,571.2 L176.7,580.4 L176.7,601.6 L174.4,603.3 L154.3,590.1 Z"/>
<path d="M155.5,567 L173.8,579.2 L173.8,601 M174.4,579.2 L192.1,570"/>
<ellipse cx="173.2" cy="567.8" rx="5" ry="2.8" transform="rotate(5 173.2 567.8)"/>
<ellipse cx="173.4" cy="568" rx="2.8" ry="1.5" transform="rotate(5 173.4 568)"/>
<ellipse cx="163.5" cy="584.4" rx="2.5" ry="4.1" transform="rotate(-25 163.5 584.4)"/>
</g>
<!-- right group: bolt 18 -->
<g class="l">
<path class="f" d="M240.5,616.3 L258.5,606.4 L260,614.1 L242.4,622.2 C240,622.8 238.6,620.8 238.9,619 C239.1,617.6 239.6,616.8 240.5,616.3 Z"/>
<path d="M241.5,614.4 Q242.3,618.8 245.7,621.9 M244.2,612.9 Q245.0,617.4 248.4,620.4 M246.9,611.4 Q247.7,615.9 251.1,619.0 M249.6,609.9 Q250.4,614.4 253.8,617.5 M252.2,608.5 Q253.0,613.0 256.4,616.1 M254.7,607.2 Q255.5,611.6 258.9,614.7 " stroke-width="1.1"/>
<path class="f" d="M259,604 C259.5,601 261,599.5 263.5,598.8 L266.5,598.3 C268.8,598.6 270.6,600 271.6,602 C272.6,604 272.8,606 272.5,607.8 C272,609.5 271,610.5 270,611 L264.5,614.1 C262,615 260,614 259.3,612 Z"/>
<path d="M266.5,598.5 C268.5,601 269.6,604.5 269.2,610.5" stroke-width="1.2"/>
<ellipse class="f" cx="261.6" cy="607" rx="3" ry="7.2" transform="rotate(-28 261.6 607)"/>
</g>
<!-- washer 19 right -->
<g class="l" stroke-width="1.6">
<ellipse class="f" cx="232.2" cy="626.4" rx="5.8" ry="8.4" transform="rotate(22 232.2 626.4)" stroke-width="1.6"/>
<ellipse class="f" cx="231.4" cy="626.7" rx="5.6" ry="8.2" transform="rotate(22 231.4 626.7)" stroke-width="1.6"/>
<ellipse cx="231.2" cy="626.8" rx="1.6" ry="4.2" transform="rotate(22 231.2 626.8)" stroke-width="1.3"/>
</g>
<!-- washer 20 right -->
<g class="l">
<path class="f" stroke-width="1.6" d="M225.5,629 C224,626 221.5,625 219.5,625.4 C216,626 213.2,629.5 213.3,634 C213.4,638.5 216.5,641.7 220,641.5 C223,641.3 225.8,639 226.5,636 L223,635 C222.5,637 221.5,638 220,638 C218,638 216.8,636 216.8,633.8 C216.8,631 218.3,629 220,628.8 C221,628.7 222,629.3 222.6,630.5 Z"/>
</g>
<!-- nut 21 right -->
<g class="l">
<path class="f" stroke-width="1.6" d="M202,634 L203.8,633 L209.7,633.4 C212,634.5 213.6,637.5 213.4,640.8 C213.2,643.5 212.3,646 210.8,647.4 L205,650 Z"/>
<path d="M206.5,633.3 C208.5,635 209.5,638 209.5,641 M209.5,641 L213.3,641" stroke-width="1.2"/>
<ellipse class="f" cx="202.7" cy="642.4" rx="5.2" ry="8" transform="rotate(22 202.7 642.4)" stroke-width="1.6"/>
<ellipse cx="202.8" cy="642.5" rx="2.6" ry="4.6" transform="rotate(22 202.8 642.5)" stroke-width="1.2"/>
</g>

<!-- leaders -->
<!-- LEADERS -->
<path d="M163.5,312.6 L172,316.5" stroke="#fff" stroke-width="3.2" fill="none"/>
<g class="t">
<path d="M126,25 L159.5,57.5"/>
<path d="M321,29 L354.5,62"/>
<path d="M536.8,34.3 L499.3,71.8"/>
<path d="M569,155 L532,193"/>
<path d="M449,208.4 L461,197.3"/>
<path d="M505.4,245 L542.2,281.2"/>
<path d="M273.4,231.5 L314.7,190.6"/>
<path d="M286.6,308 L328.6,267"/>
<path d="M577.4,321 L539,359"/>
<path d="M44.6,261 L77.8,294"/>
<path d="M193.6,290.7 L167,316.8"/>
<path d="M106,152 L68.3,190"/>
<path d="M130,152.7 L91.6,191"/>
<path d="M157.5,154.8 L119.9,191"/>
<path d="M217,156.8 L180,193.5"/>
<path d="M108.6,459 L139.7,459"/>
<path d="M54.5,509.7 L92.2,509.7"/>
<path d="M54,538.5 L88.4,538.5"/>
<path d="M53,592.5 L88.6,557.3"/>
<path d="M53.8,617 L89.3,582"/>
<path d="M127.5,638.1 L163.7,602.6"/>
<path d="M361.8,539.8 L392.8,572.5"/>
<path d="M259.3,618.1 L281.5,640.8"/>
<path d="M242.3,632.3 L263.9,653.2"/>
<path d="M228.5,640.8 L251.4,663"/>
<path d="M211,652 L232.8,674.8"/>
</g>
<g class="d">
<circle cx="159.5" cy="57.5" r="2"/><circle cx="354.5" cy="62" r="2"/><circle cx="499" cy="72" r="2"/>
<circle cx="532" cy="193" r="2"/><circle cx="461" cy="197.3" r="2"/><circle cx="505.4" cy="245" r="2"/>
<circle cx="314.7" cy="190.6" r="2"/><circle cx="328.6" cy="267" r="2"/><circle cx="539" cy="359" r="2"/>
<circle cx="77.8" cy="294" r="2"/><circle cx="167" cy="316.8" r="2"/><circle cx="68.3" cy="190" r="2"/>
<circle cx="91.6" cy="191" r="2"/><circle cx="119.9" cy="191" r="2"/><circle cx="180" cy="193.5" r="2"/>
<circle cx="139.7" cy="459" r="2"/><circle cx="92.2" cy="509.7" r="2"/><circle cx="88.4" cy="538.5" r="2"/>
<circle cx="88.6" cy="557.3" r="2"/><circle cx="89.3" cy="582" r="2"/><circle cx="163.7" cy="602.6" r="2"/>
<circle cx="361.8" cy="539.8" r="2"/><circle cx="259.3" cy="618.1" r="2"/><circle cx="242.3" cy="632.3" r="2"/>
<circle cx="228.5" cy="640.8" r="2"/><circle cx="211" cy="652" r="2"/>
</g>

<!-- red -->
<!-- RED LINES -->
<g class="r">
<path d="M257.4,56.4 L383,113 M252.6,65.4 L383,113"/>
<path d="M449.4,157 L383.5,171 M449.4,157 L386.7,180"/>
<path d="M485,268 L404.5,248.7 M485,268 L405.5,255.7"/>
<path d="M116.6,224 L135.6,307.5 M126.8,224 L135.6,307.5"/>
<path d="M110.2,522.7 L141.3,527 M111.8,529.3 L141.3,527"/>
<path d="M186.2,584.4 L224,609.6 M186.2,584.4 L215,613.2"/>
</g>

<!-- labels -->
<g class="n">
<text x="110.0" y="24.7">17</text>
<text x="309.6" y="28.0">1</text>
<text x="538.0" y="32.5">8</text>
<text x="571.6" y="152.9">7</text>
<text x="438.1" y="218.4">2</text>
<text x="544.0" y="290.5">3</text>
<text x="260.8" y="240.2">4</text>
<text x="275.6" y="317.6">6</text>
<text x="580.4" y="316.0">5</text>
<text x="34.8" y="260.6">9</text>
<text x="189.7" y="286.4">10</text>
<text x="104.9" y="148.9">15</text>
<text x="128.4" y="150.0">14</text>
<text x="157.4" y="151.2">13</text>
<text x="214.3" y="152.6">12</text>
<text x="87.5" y="465.2">16</text>
<text x="33.3" y="515.1">18</text>
<text x="33.0" y="543.5">19</text>
<text x="33.5" y="602.1">20</text>
<text x="33.8" y="626.4">21</text>
<text x="109.8" y="649.7">11</text>
<text x="395.5" y="587.8">8</text>
<text x="280.2" y="653.7">18</text>
<text x="263.8" y="663.8">19</text>
<text x="246.7" y="675.8">20</text>
<text x="227.1" y="688.3">21</text>
</g>
<text x="15" y="685.0" style="font-family:'Liberation Sans',sans-serif;font-size:12.7px;fill:#000">AHJXTA4A</text>

</svg>
</body></html>
